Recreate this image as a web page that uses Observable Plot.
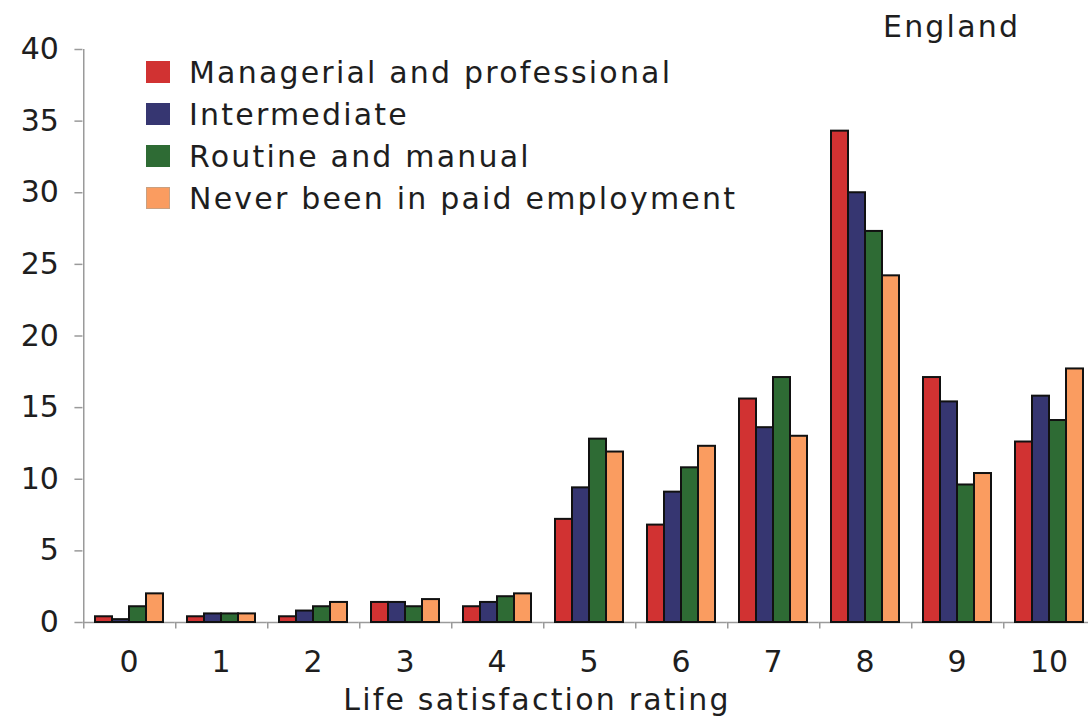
<!DOCTYPE html>
<html>
<head>
<meta charset="utf-8">
<script src="https://cdn.jsdelivr.net/npm/d3@7"></script>
<script src="https://cdn.jsdelivr.net/npm/@observablehq/plot@0.6"></script>
<style>
html, body { margin: 0; padding: 0; background: #fff; overflow: hidden; }
#wrap { position: relative; width: 1088px; height: 720px; overflow: hidden; font-family: "DejaVu Sans", Verdana, sans-serif; color: #1e1e1e; background: #fff; }
#inner { position: absolute; left: 0; top: 0; width: 1097px; height: 720px; }
.ov { position: absolute; font-size: 30px; line-height: 30px; letter-spacing: 2.2px; white-space: nowrap; }
.sw { position: absolute; width: 24px; height: 22px; }
</style>
</head>
<body>
<div id="wrap"><div id="inner"></div></div>
<script>
// ---- data ----
const ratings = [0, 1, 2, 3, 4, 5, 6, 7, 8, 9, 10];
const seriesNames = ["Managerial and professional", "Intermediate", "Routine and manual", "Never been in paid employment"];
const managerial   = [0.4, 0.4, 0.4, 1.4, 1.1, 7.2, 6.8, 15.6, 34.3, 17.1, 12.6];
const intermediate = [0.2, 0.6, 0.8, 1.4, 1.4, 9.4, 9.1, 13.6, 30.0, 15.4, 15.8];
const routine      = [1.1, 0.6, 1.1, 1.1, 1.8, 12.8, 10.8, 17.1, 27.3, 9.6, 14.1];
const never        = [2.0, 0.6, 1.4, 1.6, 2.0, 11.9, 12.3, 13.0, 24.2, 10.4, 17.7];
const yTicks = [0, 5, 10, 15, 20, 25, 30, 35, 40];
const barColors = ["#d13232", "#363671", "#2e6b34", "#fa9c60"];
const titleText = "England";
const xLabelText = "Life satisfaction rating";

// ---- table ----
const seriesValues = [managerial, intermediate, routine, never];
const table = [];
ratings.forEach((r, i) => {
  seriesValues.forEach((arr, j) => table.push({rating: r, series: seriesNames[j], value: arr[i]}));
});

// layout helpers (pixels)
const step = (1097 - 79) / 11;
const facetW = step * 0.75;
const halfGap = step * 0.125;
const edgeDx = -(facetW / 8 + halfGap);
const axisGray = "#9a9a9a";

const chart = Plot.plot({
  width: 1097,
  height: 720,
  marginLeft: 79,
  marginRight: 0,
  marginTop: 49,
  marginBottom: 98,
  style: {fontFamily: "'DejaVu Sans', Verdana, sans-serif", fontSize: "30px", color: "#1e1e1e", background: "#fff", maxWidth: "none", overflow: "visible"},
  fx: {domain: ratings, paddingInner: 0.25, paddingOuter: 0.125, label: null},
  x: {domain: seriesNames, padding: 0, axis: null},
  y: {domain: [0, 40], label: null},
  color: {domain: seriesNames, range: barColors},
  marks: [
    Plot.ruleY([0], {stroke: axisGray, strokeWidth: 1.5, insetLeft: -halfGap, insetRight: -halfGap}),
    Plot.ruleX([seriesNames[0]], {x: d => d, dx: edgeDx, y1: 0, y2: -0.45, stroke: axisGray, strokeWidth: 1.5}),
    Plot.ruleX([ratings[0]], {fx: d => d, x: () => seriesNames[0], dx: edgeDx, y1: 0, y2: 40, stroke: axisGray, strokeWidth: 1.5}),
    Plot.barY(table, {fx: "rating", x: "series", y: "value", fill: "series", stroke: "#111", strokeWidth: 2}),
    Plot.axisY({ticks: yTicks, tickSize: 8, tickPadding: 16, dx: -halfGap, stroke: axisGray, strokeWidth: 1.5, fill: "#1e1e1e", label: null, fontSize: 30}),
    Plot.axisFx({anchor: "bottom", tickSize: 0, tickPadding: 28, label: null, fontSize: 30, fill: "#1e1e1e"})
  ]
});
document.getElementById("inner").appendChild(chart);

// ---- overlays: title, legend, x label ----
const wrap = d3.select("#inner");
wrap.append("div").attr("class", "ov").style("left", "883px").style("top", "12px").text(titleText);

seriesNames.forEach((name, i) => {
  const baseline = 83 + 42 * i;
  wrap.append("div").attr("class", "sw")
    .style("left", "146px").style("top", (baseline - 22) + "px")
    .style("background", barColors[i])
    .style("box-sizing", "border-box")
    .style("border", i === 3 ? "1px solid #c9a080" : "none");
  wrap.append("div").attr("class", "ov")
    .style("left", "189px").style("top", (baseline - 25.4) + "px")
    .text(name);
});

wrap.append("div").attr("class", "ov")
  .style("left", "0px").style("width", "1074px").style("text-align", "center")
  .style("top", "685px").text(xLabelText);
</script>
</body>
</html>
